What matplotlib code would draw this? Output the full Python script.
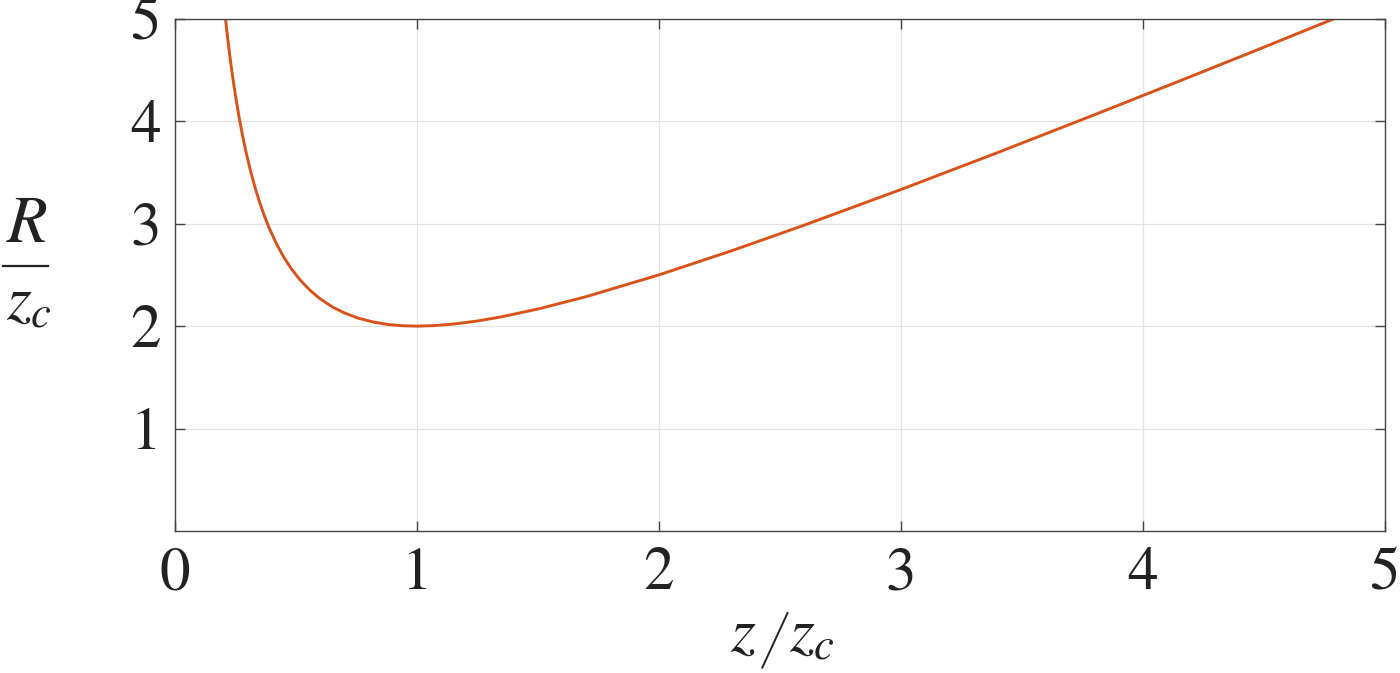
import matplotlib
matplotlib.use("Agg")
import matplotlib.pyplot as plt
from matplotlib.lines import Line2D

plt.rcParams["font.family"] = ["STIXGeneral", "Liberation Serif", "DejaVu Serif"]
plt.rcParams["mathtext.fontset"] = "stix"

# Точки кривой
z_ratio = [0.208, 0.215, 0.225, 0.235, 0.245, 0.255, 0.265, 0.28, 0.295, 0.31, 0.33,
           0.35, 0.37, 0.39, 0.42, 0.45, 0.48, 0.52, 0.56, 0.60, 0.65, 0.70, 0.76,
           0.82, 0.88, 0.94, 1.00, 1.07, 1.15, 1.25, 1.35, 1.50, 1.70, 2.00, 2.30,
           2.60, 3.00, 3.40, 3.80, 4.20, 4.50, 4.79]
r_ratio = [5.016, 4.866, 4.669, 4.490, 4.327, 4.177, 4.039, 3.851, 3.685, 3.536, 3.360,
           3.207, 3.073, 2.954, 2.801, 2.672, 2.563, 2.443, 2.346, 2.267, 2.188, 2.129, 2.076,
           2.040, 2.016, 2.004, 2.000, 2.005, 2.020, 2.050, 2.091, 2.167, 2.288, 2.500, 2.735,
           2.985, 3.333, 3.694, 4.063, 4.438, 4.722, 5.000]

x_ticks = [0, 1, 2, 3, 4, 5]
y_ticks = [1, 2, 3, 4, 5]

fig = plt.figure(figsize=(14, 6.73), dpi=100)
ax = fig.add_axes([0.125, 0.211, 0.864, 0.761])

ax.plot(z_ratio, r_ratio, color="#D95319", linewidth=2.1, solid_capstyle="butt",
        solid_joinstyle="round")

ax.set_xlim(0, 5)
ax.set_ylim(0, 5)
ax.set_xticks(x_ticks)
ax.set_yticks(y_ticks)
ax.grid(True, color="#e3e3e3", linewidth=0.9)
ax.set_axisbelow(True)
for s in ax.spines.values():
    s.set_color("#444444")
    s.set_linewidth(1.0)
ax.tick_params(direction="in", length=7, width=1.0, color="#444444",
               top=True, right=True, labelsize=44, labelcolor="#222222")
ax.tick_params(axis="x", pad=12)
ax.tick_params(axis="y", pad=10)

# подписи осей
fig.text(0.531, 0.012, r"$z$", fontsize=46, ha="center", va="bottom", color="#222222")
fig.add_artist(Line2D([0.5445, 0.5625], [0.008, 0.089], transform=fig.transFigure,
                      color="#222222", linewidth=1.4))
fig.text(0.58, 0.012, r"$z_c$", fontsize=46, ha="center", va="bottom", color="#222222")
fig.text(0.019, 0.618, r"$R$", fontsize=48, ha="center", va="bottom", color="#222222")
fig.add_artist(Line2D([0.002, 0.034], [0.605, 0.605], transform=fig.transFigure,
                      color="#222222", linewidth=1.6))
fig.text(0.021, 0.505, r"$z_c$", fontsize=46, ha="center", va="bottom", color="#222222")

fig.savefig("out.png", dpi=100)
